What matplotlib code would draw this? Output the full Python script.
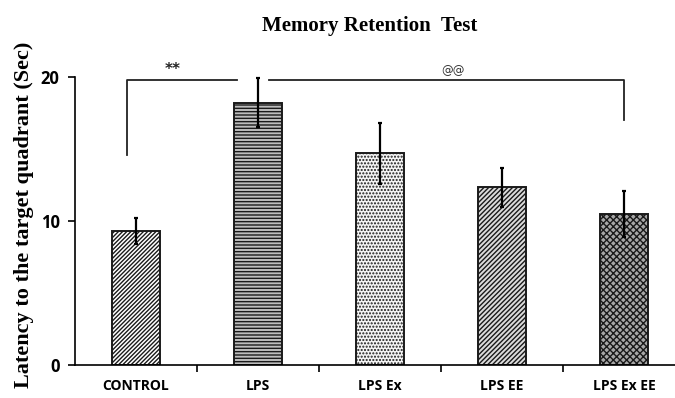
import numpy as np
import matplotlib
matplotlib.use('Agg')
import matplotlib.pyplot as plt

# data
groups = ['CONTROL', 'LPS', 'LPS Ex', 'LPS EE', 'LPS Ex EE']
means = [9.3, 18.2, 14.7, 12.35, 10.5]
errors = [0.9, 1.7, 2.1, 1.35, 1.6]
hatches = ['////////', '-----', '.....', '///////', 'xxxxx']
faces = ['white', '#bdbdbd', '#f4f4f4', '#dcdcdc', '#a8a8a8']
hatch_colors = ['#1a1a1a', '#2a2a2a', '#8a8a8a', '#7a7a7a', '#111111']

fig = plt.figure(figsize=(6.75, 3.98), dpi=100)
ax = fig.add_axes([0.111, 0.083, 0.889, 0.7235])

x = np.arange(len(groups))
for i in range(len(groups)):
    plt.rcParams['hatch.color'] = hatch_colors[i]
    ax.bar(x[i], means[i], width=0.4, color=faces[i], edgecolor='#1a1a1a',
           linewidth=1.4, hatch=hatches[i], zorder=2)
ax.errorbar(x, means, yerr=errors, fmt='none', ecolor='black', elinewidth=1.6,
            capsize=1.2, capthick=1.6, zorder=3, clip_on=False)

ax.set_xlim(-0.5, -0.5 + 600 / 122)
ax.set_ylim(0, 20)
ax.set_yticks([0, 10, 20])
ax.set_yticklabels(['0', '10', '20'], fontfamily='Open Sans', fontweight='bold', fontsize=12)

ax.set_xticks(np.arange(0.5, 4.5, 1.0))
ax.set_xticklabels([])
ax.set_xticks(x, minor=True)
ax.set_xticklabels(groups, minor=True, fontfamily='Open Sans', fontweight='bold', fontsize=10)
ax.tick_params(axis='x', which='minor', length=0, pad=10)
ax.tick_params(axis='x', which='major', length=5, width=1.2, direction='out')
ax.tick_params(axis='y', length=5, width=1.2, direction='out', pad=6)

ax.spines['top'].set_visible(False)
ax.spines['right'].set_visible(False)
ax.spines['left'].set_linewidth(1.2)
ax.spines['bottom'].set_linewidth(1.2)

ax.set_ylabel('Latency to the target quadrant (Sec)', fontfamily='Liberation Serif',
              fontweight='bold', fontsize=16)
ax.yaxis.set_label_coords(-0.068, 0.52)

# significance brackets
yb = 19.8
ax.plot([-0.07, -0.07, 0.83], [14.6, yb, yb], color='#222222', lw=1.3, clip_on=False)
ax.plot([1.09, 4.0, 4.0], [yb, yb, 17.0], color='#222222', lw=1.3, clip_on=False)
ax.text(0.3, 20.0, '**', ha='center', va='bottom', fontsize=11, fontweight='bold',
        color='#222222')
ax.text(2.6, 20.0, '@@', ha='center', va='bottom', fontsize=8.5, color='#333333')

fig.text(0.547, 0.935, 'Memory Retention  Test', ha='center', va='center',
         fontfamily='Liberation Serif', fontweight='bold', fontsize=15)

fig.savefig('out.png', dpi=100)
